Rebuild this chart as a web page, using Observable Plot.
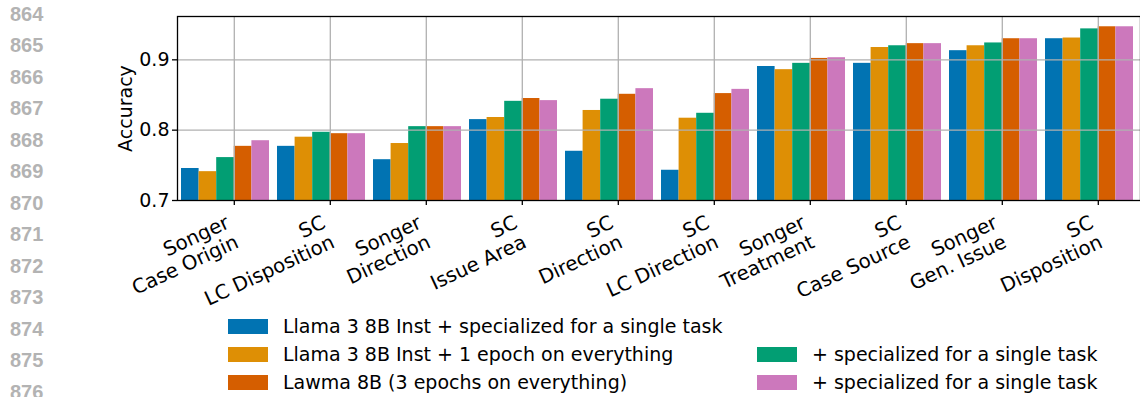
<!DOCTYPE html>
<html>
<head>
<meta charset="utf-8">
<script src="https://cdn.jsdelivr.net/npm/d3@7"></script>
<script src="https://cdn.jsdelivr.net/npm/@observablehq/plot@0.6"></script>
<style>
  html, body { margin: 0; padding: 0; background: #fff; }
  body { width: 1140px; height: 397px; overflow: hidden; position: relative; font-family: "DejaVu Sans", sans-serif; }
  #chart { position: absolute; left: 0; top: 0; }
  .ln { position: absolute; left: 10px; font-family: "Liberation Sans", Arial, sans-serif; font-weight: bold; font-size: 20px; line-height: 20px; color: #b3b3b3; }
  .legend-item { position: absolute; display: flex; align-items: center; height: 15px; font-size: 19px; line-height: 15px; color: #000; white-space: nowrap; }
  .sw { width: 40px; height: 15px; margin-right: 15px; flex: none; }
</style>
</head>
<body>
<div id="chart"></div>
<script>
// ---- data ----
const categories = [
  "Songer\nCase Origin", "SC\nLC Disposition", "Songer\nDirection", "SC\nIssue Area",
  "SC\nDirection", "SC\nLC Direction", "Songer\nTreatment", "SC\nCase Source",
  "Songer\nGen. Issue", "SC\nDisposition"
];
const seriesNames = [
  "Llama 3 8B Inst + specialized for a single task",
  "Llama 3 8B Inst + 1 epoch on everything",
  "+ specialized for a single task",
  "Lawma 8B (3 epochs on everything)",
  "+ specialized for a single task"
];
const seriesColors = ["#0173b2", "#de8f05", "#029e73", "#d55e00", "#cc78bc"];
const llamaSpecialized   = [0.7455, 0.777, 0.758, 0.815, 0.770, 0.743, 0.8905, 0.895, 0.913, 0.930];
const llamaOneEpoch      = [0.741, 0.790, 0.781, 0.818, 0.828, 0.817, 0.886, 0.9175, 0.920, 0.931];
const llamaOneEpochSpec  = [0.761, 0.797, 0.805, 0.841, 0.844, 0.824, 0.895, 0.920, 0.924, 0.944];
const lawma8B            = [0.777, 0.795, 0.805, 0.845, 0.851, 0.852, 0.902, 0.923, 0.930, 0.947];
const lawma8BSpecialized = [0.785, 0.795, 0.805, 0.842, 0.859, 0.858, 0.903, 0.923, 0.930, 0.947];
const yTicks = [0.7, 0.8, 0.9];
const lineNumbers = [864, 865, 866, 867, 868, 869, 870, 871, 872, 873, 874, 875, 876];
// legend layout: columns of series indices (null = empty slot)
const legendColumns = [[0, 1, 3], [null, 2, 4]];

// ---- derived table ----
const seriesValues = [llamaSpecialized, llamaOneEpoch, llamaOneEpochSpec, lawma8B, lawma8BSpecialized];
const nS = seriesValues.length;
const groupFill = 88 / 96;          // fraction of each group slot covered by bars
const barW = groupFill / nS;
const yBase = yTicks[0];
const rows = [];
seriesValues.forEach((vals, s) => vals.forEach((v, g) => {
  rows.push({ g, s, v, x1: g - groupFill / 2 + s * barW, x2: g - groupFill / 2 + (s + 1) * barW });
}));
const tickPos = categories.map((_, i) => i + barW / 2);

const W = 1140, marginLeft = 177;
const step = 96;
const chart = Plot.plot({
  width: W,
  height: 305,
  marginLeft,
  marginRight: 0,
  marginTop: 16,
  marginBottom: 105,
  style: { fontFamily: "DejaVu Sans", fontSize: "19px", color: "black", background: "white", overflow: "visible" },
  x: { domain: [-0.5, -0.5 + (W - marginLeft) / step], axis: null },
  y: { domain: [0.7, 0.9616], axis: null },
  color: { type: "ordinal", domain: d3.range(nS), range: seriesColors },
  marks: [
    Plot.rect(rows, { x1: "x1", x2: "x2", y1: () => yBase, y2: "v", fill: "s" }),
    Plot.gridY([0.8, 0.9], { stroke: "#b0b0b0", strokeOpacity: 1, strokeWidth: 1.3 }),
    Plot.gridX(tickPos, { stroke: "#b0b0b0", strokeOpacity: 1, strokeWidth: 1.3 }),
    Plot.axisY(yTicks, { tickSize: 5, tickPadding: 3, tickFormat: d3.format(".1f"), label: null, strokeWidth: 1.3 }),
    Plot.axisX(tickPos, { tickSize: 5, tickFormat: () => "", label: null, strokeWidth: 1.3 }),
    Plot.text(categories, {
      x: (d, i) => tickPos[i], text: d => d, frameAnchor: "bottom",
      rotate: -25, textAnchor: "end", lineAnchor: "top", lineHeight: 1.08,
      fontSize: 19.8, dx: -10, dy: 13, fill: "black"
    }),
    Plot.text(["Accuracy"], {
      text: d => d, frameAnchor: "left", rotate: -90, textAnchor: "middle", lineAnchor: "middle",
      dx: -52, fill: "black"
    }),
    Plot.frame({ stroke: "black", strokeWidth: 1.3 })
  ]
});
document.getElementById("chart").appendChild(chart);

// line numbers (page margin of the source document)
lineNumbers.forEach((n, k) => {
  const el = document.createElement("div");
  el.className = "ln";
  el.style.top = (3.5 + 31.5 * k) + "px";
  el.textContent = n;
  document.body.appendChild(el);
});

// legend
const legendLeft = [228, 757], legendTop = 319, legendRow = 28;
legendColumns.forEach((col, c) => col.forEach((s, r) => {
  if (s === null) return;
  const item = document.createElement("div");
  item.className = "legend-item";
  item.style.left = legendLeft[c] + "px";
  item.style.top = (legendTop + r * legendRow) + "px";
  const sw = document.createElement("div");
  sw.className = "sw";
  sw.style.background = seriesColors[s];
  const t = document.createElement("span");
  t.textContent = seriesNames[s];
  item.appendChild(sw); item.appendChild(t);
  document.body.appendChild(item);
}));
</script>
</body>
</html>
